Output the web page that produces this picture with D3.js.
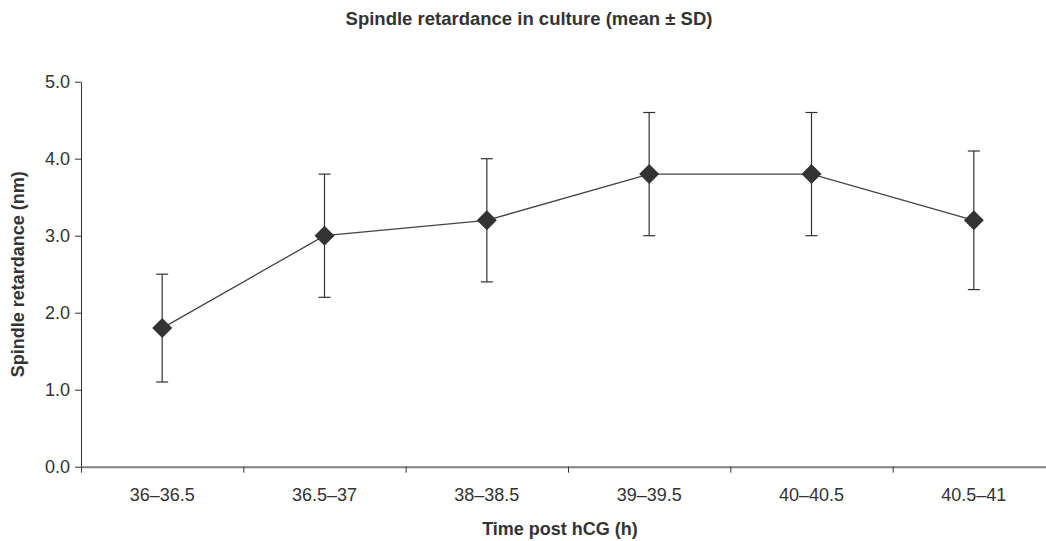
<!DOCTYPE html>
<html>
<head>
<meta charset="utf-8">
<script src="https://cdn.jsdelivr.net/npm/d3@7"></script>
<style>
  body { margin: 0; background: #fff; }
  text { font-family: "Liberation Sans", Arial, sans-serif; fill: #333; }
</style>
</head>
<body>
<script>
// data
let categories = ["36–36.5", "36.5–37", "38–38.5", "39–39.5", "40–40.5", "40.5–41"];
let means = [1.8, 3.0, 3.2, 3.8, 3.8, 3.2];
let upper = [2.5, 3.8, 4.0, 4.6, 4.6, 4.1];
let lower = [1.1, 2.2, 2.4, 3.0, 3.0, 2.3];
let yTicks = [0, 1, 2, 3, 4, 5];

let width = 1046;
let height = 541;
let svg = d3.select("body").append("svg")
    .attr("width", width).attr("height", height);

// plot area
let plot = { left: 81, right: 1055, top: 81.7, bottom: 466.7 };

let x = d3.scaleBand().domain(categories).range([plot.left, plot.right]).padding(0);
let xEdge = d3.scaleLinear().domain([0, categories.length]).range([plot.left, plot.right]);
let y = d3.scaleLinear().domain([0, 5]).range([plot.bottom, plot.top]);

// title
svg.append("text")
    .attr("x", 529).attr("y", 25)
    .attr("text-anchor", "middle")
    .attr("font-size", 18.5).attr("font-weight", "bold")
    .text("Spindle retardance in culture (mean ± SD)");

// y axis
svg.append("g")
    .attr("transform", `translate(${plot.left},0)`)
    .call(d3.axisLeft(y).tickValues(yTicks).tickFormat(d3.format(".1f"))
        .tickSize(6).tickSizeOuter(0).tickPadding(5))
    .call(g => {
        g.select(".domain").attr("stroke", "#333");
        g.selectAll("line").attr("stroke", "#333");
        g.selectAll("text").attr("font-size", 18).attr("fill", "#333")
            .attr("font-family", "Liberation Sans, Arial, sans-serif");
    });

// x axis: ticks between categories
svg.append("g")
    .attr("transform", `translate(0,${plot.bottom})`)
    .call(d3.axisBottom(xEdge).tickValues(d3.range(categories.length + 1))
        .tickFormat("").tickSize(6).tickSizeOuter(0))
    .call(g => {
        g.select(".domain").attr("stroke", "#808080").attr("stroke-width", 2);
        g.selectAll("line").attr("stroke", "#333");
    });

// x labels centred in bands
svg.append("g")
    .attr("transform", `translate(0,${plot.bottom})`)
    .call(d3.axisBottom(x).tickSize(0).tickPadding(22))
    .call(g => {
        g.select(".domain").remove();
        g.selectAll("text").attr("font-size", 18).attr("fill", "#333")
            .attr("font-family", "Liberation Sans, Arial, sans-serif");
    });

// axis titles
svg.append("text")
    .attr("x", 560).attr("y", 535)
    .attr("text-anchor", "middle")
    .attr("font-size", 18).attr("font-weight", "bold")
    .text("Time post hCG (h)");

svg.append("text")
    .attr("transform", `translate(24,${(plot.top + plot.bottom) / 2}) rotate(-90)`)
    .attr("text-anchor", "middle")
    .attr("font-size", 18).attr("font-weight", "bold")
    .text("Spindle retardance (nm)");

// centre of category i
let cx = (i) => x(categories[i]) + x.bandwidth() / 2;

// error bars
let eb = svg.append("g").attr("stroke", "#333").attr("stroke-width", 1.2);
categories.forEach((c, i) => {
    let xc = cx(i);
    eb.append("line").attr("x1", xc).attr("x2", xc)
        .attr("y1", y(upper[i])).attr("y2", y(lower[i]));
    eb.append("line").attr("x1", xc - 6).attr("x2", xc + 6)
        .attr("y1", y(upper[i])).attr("y2", y(upper[i]));
    eb.append("line").attr("x1", xc - 6).attr("x2", xc + 6)
        .attr("y1", y(lower[i])).attr("y2", y(lower[i]));
});

// line
svg.append("path")
    .datum(means)
    .attr("d", d3.line().x((d, i) => cx(i)).y(d => y(d)))
    .attr("fill", "none")
    .attr("stroke", "#444")
    .attr("stroke-width", 1.3);

// diamond markers
svg.append("g").selectAll("path")
    .data(means)
    .join("path")
    .attr("transform", (d, i) => `translate(${cx(i)},${y(d)})`)
    .attr("d", "M0,-10L10,0L0,10L-10,0Z")
    .attr("fill", "#333");
</script>
</body>
</html>
